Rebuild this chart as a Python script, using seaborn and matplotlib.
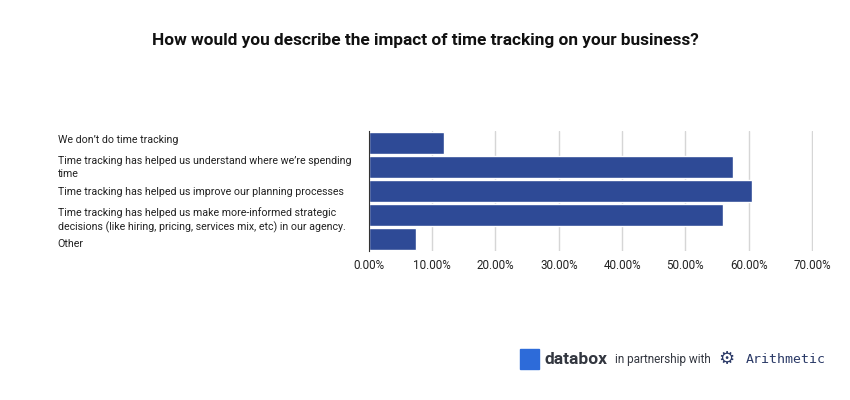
import pandas as pd
import seaborn as sb
import matplotlib.pyplot as plt
from matplotlib.ticker import FuncFormatter, MultipleLocator
from matplotlib.transforms import ScaledTranslation

answers = [
    "We don\u2019t do time tracking",
    "Time tracking has helped us understand where we\u2019re spending\ntime",
    "Time tracking has helped us improve our planning processes",
    "Time tracking has helped us make more-informed strategic\ndecisions (like hiring, pricing, services mix, etc) in our agency.",
    "Other",
]
shares = [11.8, 57.6, 60.5, 56.0, 7.4]

df = pd.DataFrame({"answer": answers, "share": shares})

sb.set_style("white")
plt.rcParams["font.family"] = ["Roboto", "DejaVu Sans"]

fig = plt.figure(figsize=(8.5, 4), dpi=100)
ax = fig.add_axes([0.434, 0.3725, 0.522, 0.30])

sb.barplot(data=df, x="share", y="answer", color="#2E4A96", saturation=1,
           width=0.9, ax=ax, zorder=3)

ax.set_xlim(0, 70.1)
ax.xaxis.set_major_locator(MultipleLocator(10))
ax.xaxis.set_major_formatter(FuncFormatter(lambda x, _: f"{x:.2f}%"))
ax.grid(axis="x", color="#d6d6d6", linewidth=1, zorder=0)
ax.set_xlabel("")
ax.set_ylabel("")
for s in ["top", "right", "bottom"]:
    ax.spines[s].set_visible(False)
ax.spines["left"].set_color("#333333")
ax.spines["left"].set_zorder(4)
ax.tick_params(axis="x", length=0, labelsize=8.4, labelcolor="#222222", pad=6)
ax.tick_params(axis="y", length=0, labelsize=7.7, labelcolor="#222222", pad=224)
for i, lab in enumerate(ax.get_yticklabels()):
    lab.set_horizontalalignment("left")
    lab.set_linespacing(1.35)
    # labels are spread a little wider than the bars
    lab.set_transform(lab.get_transform() + ScaledTranslation(0, -(i - 2) * 0.022, fig.dpi_scale_trans))

fig.text(0.5, 0.9, "How would you describe the impact of time tracking on your business?",
         ha="center", va="center", fontsize=12.4, fontweight="bold", color="#111111")

# footer
fig.patches.append(plt.Rectangle((0.612, 0.078), 0.022, 0.05, transform=fig.transFigure,
                                 color="#2D6BD9", figure=fig))
fig.text(0.641, 0.102, "databox", fontsize=12.5, fontweight="bold", color="#333740", va="center")
fig.text(0.723, 0.102, "in partnership with", fontsize=8.5, color="#333740", va="center")
fig.text(0.845, 0.102, "\u2699", fontsize=13, color="#2b3a67", va="center")
fig.text(0.877, 0.102, "Arithmetic", fontsize=9.5, family="DejaVu Sans Mono", color="#2b3a67", va="center")

plt.savefig("out.png", dpi=100)
